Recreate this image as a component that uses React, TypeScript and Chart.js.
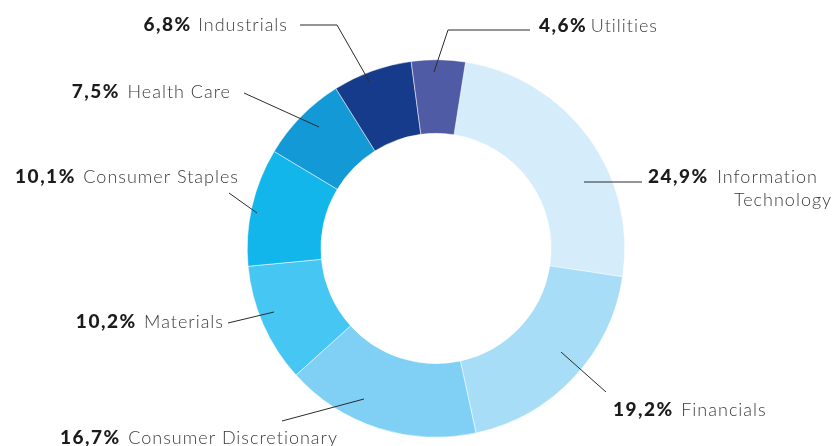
import { useEffect, useRef } from "react";
import { Chart, registerables } from "chart.js";

Chart.register(...registerables);

const categories = [
  "Information Technology",
  "Financials",
  "Consumer Discretionary",
  "Materials",
  "Consumer Staples",
  "Health Care",
  "Industrials",
  "Utilities",
];
const values = [24.9, 19.2, 16.7, 10.2, 10.1, 7.5, 6.8, 4.6];
const nameLines = [
  ["Information", "Technology"],
  ["Financials"],
  ["Consumer Discretionary"],
  ["Materials"],
  ["Consumer Staples"],
  ["Health Care"],
  ["Industrials"],
  ["Utilities"],
];
const colors = [
  "#d5ecfa",
  "#a7ddf6",
  "#7fd0f4",
  "#46c6f3",
  "#13b6eb",
  "#1299d6",
  "#173b8b",
  "#4f5ba5",
];

// Label layout: offsets from the doughnut centre (px)
type Layout = {
  pts: [number, number][];
  tx: number;
  ty: number;
  align: "left" | "right";
  gap: number;
  line2x?: number;
};
const layouts: Layout[] = [
  { pts: [[148, -66.5], [206, -66.5]], tx: 212, ty: -71.5, align: "left", gap: 10, line2x: 298 },
  { pts: [[125, 103.5], [170, 143.5]], tx: 177, ty: 161.5, align: "left", gap: 9 },
  { pts: [[-72, 150.5], [-154, 172.5]], tx: -376, ty: 189.5, align: "left", gap: 9 },
  { pts: [[-162, 63.5], [-208, 74.5]], tx: -213, ty: 73.5, align: "right", gap: 9 },
  { pts: [[-179, -35.5], [-207, -55.5]], tx: -198, ty: -71.5, align: "right", gap: 9 },
  { pts: [[-117, -121.5], [-192, -155.5]], tx: -206, ty: -156.5, align: "right", gap: 9 },
  { pts: [[-67, -167.5], [-99, -223.5], [-136, -223.5]], tx: -149, ty: -223.5, align: "right", gap: 8 },
  { pts: [[-2, -176.5], [12, -218.5], [94, -218.5]], tx: 103, ty: -222.5, align: "left", gap: 5 },
];

const fmt = (v: number) => v.toFixed(1).replace(".", ",") + "%";

const PCT_FONT = "900 19px Lato";
const PCT_SPACING = 1.5;
const NAME_FONT = "300 18px Lato";
const NAME_SPACING = 1;

const measure = (ctx: any, text: string, font: string, spacing: number) => {
  ctx.font = font;
  ctx.letterSpacing = "0px";
  return ctx.measureText(text).width + spacing * (text.length - 1);
};

const labelPlugin = {
  id: "leaderLabels",
  afterDatasetsDraw(chart: any) {
    const meta = chart.getDatasetMeta(0);
    const ctx = chart.ctx as any;
    ctx.save();
    meta.data.forEach((arc: any, i: number) => {
      const cx = arc.x;
      const cy = arc.y;
      const L = layouts[i];
      ctx.beginPath();
      L.pts.forEach(([dx, dy], k) => {
        if (k === 0) ctx.moveTo(cx + dx, cy + dy);
        else ctx.lineTo(cx + dx, cy + dy);
      });
      ctx.strokeStyle = "#2b2b2b";
      ctx.lineWidth = 1;
      ctx.stroke();

      const pct = fmt(values[i]);
      const names = nameLines[i];
      ctx.textBaseline = "middle";
      ctx.textAlign = "left";
      const wP = measure(ctx, pct, PCT_FONT, PCT_SPACING);
      const wN = measure(ctx, names[0], NAME_FONT, NAME_SPACING);
      const x = cx + L.tx;
      const y = cy + L.ty;
      let px: number, nx: number;
      if (L.align === "right") {
        nx = x - wN;
        px = nx - L.gap - wP;
      } else {
        px = x;
        nx = x + wP + L.gap;
      }
      ctx.font = PCT_FONT;
      ctx.letterSpacing = PCT_SPACING + "px";
      ctx.fillStyle = "#1b1b1b";
      ctx.fillText(pct, px, y);
      ctx.font = NAME_FONT;
      ctx.letterSpacing = NAME_SPACING + "px";
      ctx.fillStyle = "#3a3a3a";
      ctx.fillText(names[0], nx, y);
      if (names.length > 1 && L.line2x !== undefined) {
        ctx.fillText(names[1], cx + L.line2x, y + 23);
      }
    });
    ctx.restore();
  },
};

export default function App() {
  const ref = useRef<HTMLCanvasElement | null>(null);
  useEffect(() => {
    document.body.style.margin = "0";
    const chart = new Chart(ref.current!, {
      type: "doughnut",
      data: {
        labels: categories,
        datasets: [
          {
            data: values,
            backgroundColor: colors,
            borderColor: "#ffffff",
            borderWidth: 0.5,
            hoverOffset: 0,
          },
        ],
      },
      options: {
        responsive: false,
        animation: false,
        rotation: 9,
        cutout: "61%",
        layout: { padding: { top: 59, bottom: 8, left: 247, right: 214 } },
        plugins: {
          legend: { display: false },
          tooltip: { enabled: false },
        },
      },
      plugins: [labelPlugin],
    });
    return () => chart.destroy();
  }, []);
  return (
    <div style={{ width: 839, height: 446, background: "#fff" }}>
      <canvas ref={ref} width={839} height={446} />
    </div>
  );
}
